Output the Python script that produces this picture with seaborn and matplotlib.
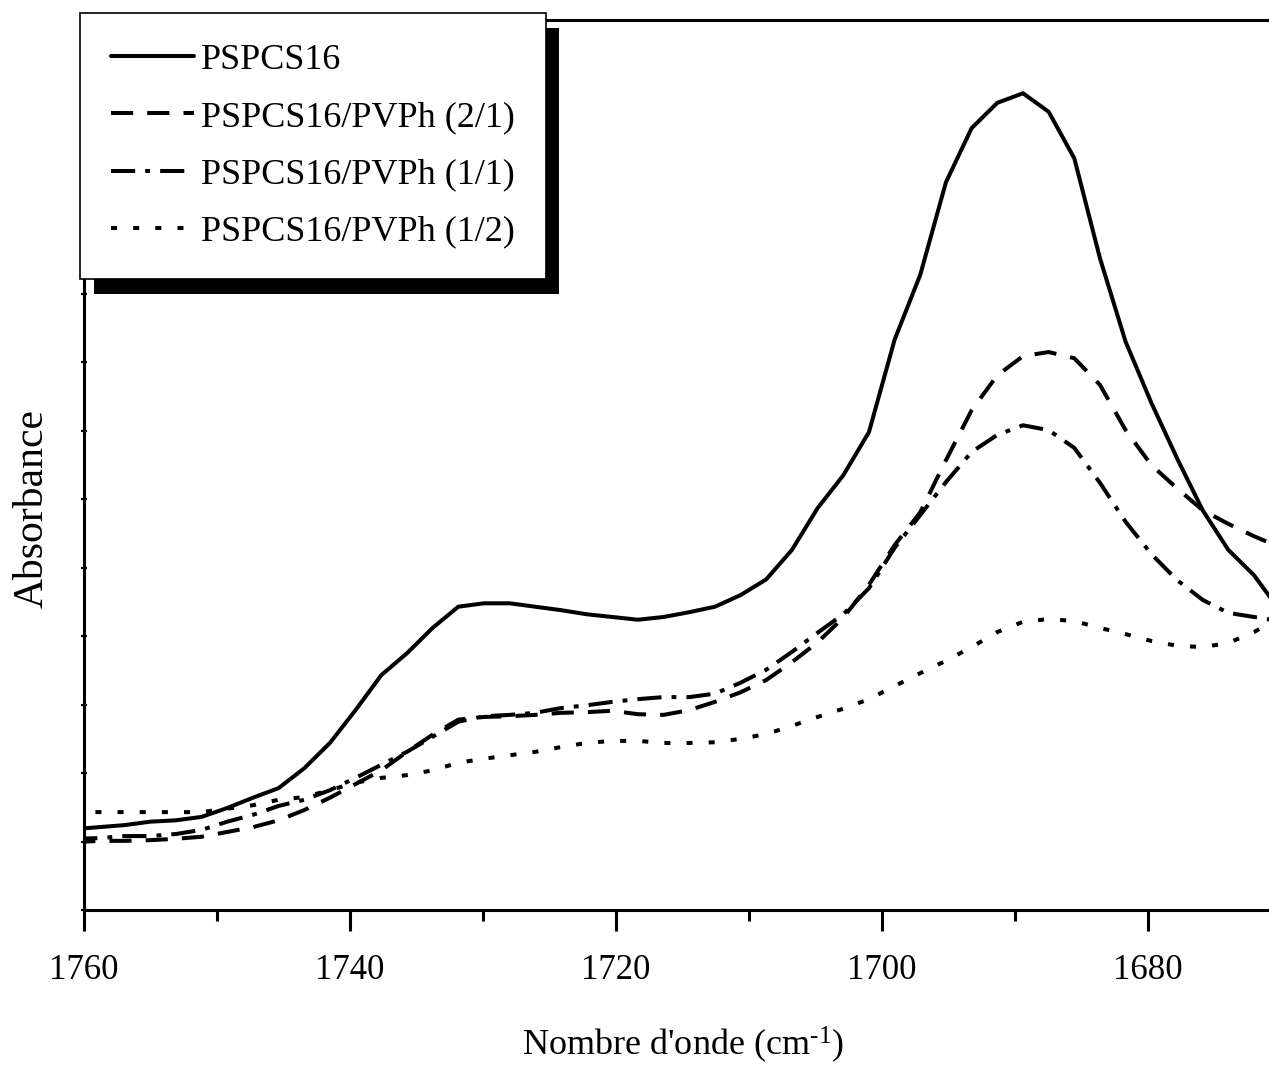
import numpy as np
import pandas as pd
import seaborn as sns
import matplotlib
matplotlib.use("Agg")
import matplotlib.pyplot as plt
from matplotlib.ticker import MultipleLocator, NullFormatter
import matplotlib.patheffects as pe

# ---------------- data ----------------
wavenumber = [1760.81, 1758.88, 1756.95, 1755.02, 1753.09, 1751.16, 1749.23, 1747.30,
              1745.37, 1743.44, 1741.51, 1739.58, 1737.65, 1735.72, 1733.79, 1731.86,
              1729.93, 1728.00, 1726.07, 1724.14, 1722.21, 1720.28, 1718.35, 1716.42,
              1714.49, 1712.56, 1710.63, 1708.70, 1706.77, 1704.84, 1702.91, 1700.98,
              1699.05, 1697.12, 1695.19, 1693.26, 1691.33, 1689.40, 1687.47, 1685.54,
              1683.61, 1681.68, 1679.75, 1677.82, 1675.89, 1673.96, 1672.03, 1670.10]

pspcs16 = [0.118, 0.121, 0.124, 0.129, 0.131, 0.136, 0.149, 0.164, 0.178, 0.207, 0.244, 0.292,
           0.343, 0.375, 0.412, 0.443, 0.448, 0.448, 0.443, 0.438, 0.432, 0.428, 0.424, 0.428,
           0.435, 0.443, 0.460, 0.483, 0.526, 0.587, 0.635, 0.698, 0.833, 0.928, 1.063, 1.142,
           1.179, 1.193, 1.166, 1.098, 0.952, 0.830, 0.741, 0.660, 0.584, 0.526, 0.489, 0.438]

blend_2_1 = [0.099, 0.101, 0.101, 0.102, 0.104, 0.107, 0.114, 0.121, 0.131, 0.146, 0.164, 0.184,
             0.204, 0.231, 0.256, 0.278, 0.282, 0.283, 0.285, 0.288, 0.289, 0.291, 0.286, 0.285,
             0.292, 0.304, 0.318, 0.336, 0.362, 0.391, 0.427, 0.475, 0.533, 0.581, 0.657, 0.730,
             0.781, 0.809, 0.815, 0.806, 0.767, 0.701, 0.650, 0.616, 0.584, 0.564, 0.546, 0.530]

blend_1_1 = [0.104, 0.105, 0.108, 0.108, 0.111, 0.117, 0.129, 0.139, 0.152, 0.161, 0.175, 0.193,
             0.212, 0.231, 0.253, 0.275, 0.283, 0.285, 0.288, 0.295, 0.299, 0.304, 0.308, 0.311,
             0.311, 0.316, 0.332, 0.351, 0.377, 0.405, 0.432, 0.470, 0.529, 0.577, 0.625, 0.669,
             0.694, 0.708, 0.701, 0.675, 0.624, 0.567, 0.520, 0.482, 0.453, 0.434, 0.428, 0.422]

blend_1_2 = [0.143, 0.143, 0.143, 0.143, 0.143, 0.143, 0.148, 0.153, 0.161, 0.165, 0.175, 0.186,
             0.193, 0.197, 0.204, 0.215, 0.221, 0.226, 0.231, 0.238, 0.244, 0.247, 0.247, 0.244,
             0.244, 0.245, 0.250, 0.257, 0.269, 0.282, 0.294, 0.308, 0.327, 0.346, 0.364, 0.384,
             0.406, 0.421, 0.425, 0.422, 0.412, 0.403, 0.393, 0.386, 0.384, 0.390, 0.406, 0.427]

series_names = ["PSPCS16", "PSPCS16/PVPh (2/1)", "PSPCS16/PVPh (1/1)", "PSPCS16/PVPh (1/2)"]
series_values = [pspcs16, blend_2_1, blend_1_1, blend_1_2]

x_ticks = [1760, 1740, 1720, 1700, 1680]

# ---------------- style ----------------
sns.set_theme(style="white")
plt.rcParams["font.family"] = ["Liberation Serif", "DejaVu Serif"]
plt.rcParams["mathtext.fontset"] = "custom"
plt.rcParams["mathtext.rm"] = "Liberation Serif"
plt.rcParams["mathtext.it"] = "Liberation Serif:italic"
plt.rcParams["text.color"] = "black"
plt.rcParams["axes.labelcolor"] = "black"
plt.rcParams["xtick.color"] = "black"
plt.rcParams["ytick.color"] = "black"

rows = []
for name, vals in zip(series_names, series_values):
    for w, v in zip(wavenumber, vals):
        rows.append({"Nombre d'onde": w, "Absorbance": v, "Echantillon": name})
df = pd.DataFrame(rows)

W, H = 1269, 1068
fig = plt.figure(figsize=(W / 100, H / 100), dpi=100)
ax = fig.add_axes([84 / W, (H - 910) / H, (1269 - 84) / W, (910 - 20) / H])

dash_map = {
    "PSPCS16": "",
    "PSPCS16/PVPh (2/1)": (5.5, 3.5),
    "PSPCS16/PVPh (1/1)": (6, 2.5, 1.2, 2.5),
    "PSPCS16/PVPh (1/2)": (1.5, 4),
}
palette = {n: "black" for n in series_names}

sns.lineplot(data=df, x="Nombre d'onde", y="Absorbance", hue="Echantillon",
             style="Echantillon", hue_order=series_names, style_order=series_names,
             palette=palette, dashes=dash_map, estimator=None, sort=False,
             linewidth=2.9, ax=ax, legend=True)

ax.set_xlim(1760, 1670.9)
ax.set_ylim(0, 1.3)

# spines
for s in ["left", "bottom", "top"]:
    ax.spines[s].set_visible(True)
    ax.spines[s].set_color("black")
    ax.spines[s].set_linewidth(2.2)
ax.spines["right"].set_visible(False)

# ticks
ax.set_xticks(x_ticks)
ax.xaxis.set_minor_locator(MultipleLocator(10))
ax.tick_params(axis="x", which="major", direction="out", length=15, width=2.2,
               colors="black", labelsize=25, pad=17, bottom=True, top=False)
ax.tick_params(axis="x", which="minor", direction="out", length=8, width=2.2,
               colors="black", bottom=True, top=False)
ax.yaxis.set_major_locator(MultipleLocator(0.1))
ax.yaxis.set_major_formatter(NullFormatter())
ax.tick_params(axis="y", which="major", direction="inout", length=4, width=1.6,
               colors="black", left=True, right=False)

ax.set_xlabel("Nombre d'onde (cm$^{\\mathregular{\u2010 1}}$)", fontsize=26)
ax.set_ylabel("Absorbance", fontsize=30)
ax.xaxis.set_label_coords((683 - 84) / 1185, (910 - 1045) / 890)
ax.xaxis.label.set_va("center")
ax.yaxis.set_label_coords((32 - 84) / 1185, (910 - 508) / 890)
ax.yaxis.label.set_va("center")
ax.yaxis.label.set_ha("center")

# legend
handles, labels = ax.get_legend_handles_labels()
for h in handles:
    h.set_linewidth(2.9)
leg = ax.legend(handles, labels, loc="upper left",
                bbox_to_anchor=(80 / W, 1 - 13 / H), bbox_transform=fig.transFigure,
                borderaxespad=0, fontsize=26, frameon=True, fancybox=False,
                framealpha=1, edgecolor="black", facecolor="white",
                handlelength=2.3, handletextpad=0.2, labelspacing=0.66,
                borderpad=0.85, title=None)
leg.get_frame().set_linewidth(1.2)
leg.get_frame().set_path_effects([
    pe.SimplePatchShadow(offset=(10, -11), shadow_rgbFace="black", alpha=1.0),
    pe.Normal()])
leg.set_zorder(10)

fig.savefig("out.png", dpi=100, facecolor="white")
